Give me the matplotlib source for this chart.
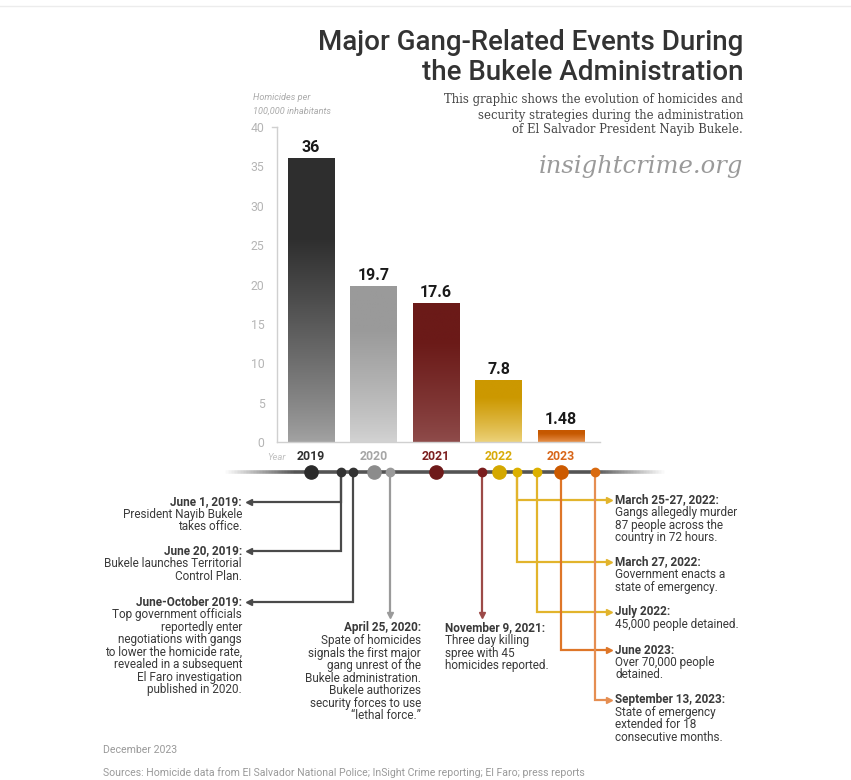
import numpy as np
import matplotlib
matplotlib.use('Agg')
import matplotlib.pyplot as plt
from matplotlib.colors import to_rgb
from matplotlib.collections import LineCollection

# ---------------- data ----------------
years = ['2019', '2020', '2021', '2022', '2023']
homicide_rate = [36, 19.7, 17.6, 7.8, 1.48]
year_colors = ['#303030', '#a6a6a6', '#7c2020', '#d8ab0a', '#d8661a']
bar_top_colors = ['#2e2e2e', '#9a9a9a', '#6b1a18', '#cc9800', '#c65800']
bar_bottom_colors = ['#a3a3a3', '#d3d3d3', '#8f4c4b', '#edd37c', '#e8924e']
big_dot_colors = ['#2b2b2b', '#8c8c8c', '#6e1a1a', '#d4a800', '#cc5a00']
yticks = [0, 5, 10, 15, 20, 25, 30, 35, 40]

# timeline events: position on the year axis (bar index units)
event_pos = [0.48, 0.67, 1.27, 2.74, 3.30, 3.62, 4.54]
event_colors = ['#333333', '#333333', '#9a9a9a', '#7a1e1e', '#dcb000', '#dcb000', '#d96a10']

title_lines = ['Major Gang-Related Events During', 'the Bukele Administration']
subtitle_lines = ['This graphic shows the evolution of homicides and',
                  'security strategies during the administration',
                  'of El Salvador President Nayib Bukele.']

# annotations: (anchor bar-index, side, header, body lines, connector colour, y end)
annotations = [
    (0.48, 'left', 'June 1, 2019:', ['President Nayib Bukele', 'takes office.'], '#4a4a4a', 502),
    (0.48, 'left', 'June 20, 2019:', ['Bukele launches Territorial', 'Control Plan.'], '#4a4a4a', 551),
    (0.67, 'left', 'June-October 2019:', ['Top government officials', 'reportedly enter',
                                          'negotiations with gangs', 'to lower the homicide rate,',
                                          'revealed in a subsequent', 'El Faro investigation',
                                          'published in 2020.'], '#4a4a4a', 602),
    (1.27, 'down_right', 'April 25, 2020:', ['Spate of homicides', 'signals the first major',
                                             'gang unrest of the', 'Bukele administration.',
                                             'Bukele authorizes', 'security forces to use',
                                             '\u201clethal force.\u201d'], '#9a9a9a', 615),
    (2.74, 'down_left', 'November 9, 2021:', ['Three day killing', 'spree with 45',
                                              'homicides reported.'], '#9c4a48', 615),
    (3.30, 'right', 'March 25-27, 2022:', ['Gangs allegedly murder', '87 people across the',
                                           'country in 72 hours.'], '#e2b42c', 500),
    (3.30, 'right', 'March 27, 2022:', ['Government enacts a', 'state of emergency.'], '#e2b42c', 562),
    (3.62, 'right', 'July 2022:', ['45,000 people detained.'], '#e2b42c', 612),
    (4.00, 'right', 'June 2023:', ['Over 70,000 people', 'detained.'], '#de7628', 650),
    (4.54, 'right', 'September 13, 2023:', ['State of emergency', 'extended for 18',
                                            'consecutive months.'], '#e58e52', 700),
]

# ---------------- figure ----------------
W, H = 851, 780
fig = plt.figure(figsize=(W / 100, H / 100), dpi=100)
fig.patch.set_facecolor('white')
plt.rcParams['font.family'] = ['Roboto', 'DejaVu Sans']

# bar axes, placed in pixels
ax_l, ax_r, ax_b, ax_t = 277, 600, 442, 127
ax = fig.add_axes([ax_l / W, 1 - ax_b / H, (ax_r - ax_l) / W, (ax_b - ax_t) / H])
ax.set_facecolor('none')

bw = 0.74
x = np.arange(len(years))
ngrad = 200
for i, (v, ct, cb) in enumerate(zip(homicide_rate, bar_top_colors, bar_bottom_colors)):
    t = np.linspace(0, 1, ngrad)  # 0 bottom -> 1 top
    s = np.clip(t / 0.72, 0, 1) ** 0.85
    top, bot = np.array(to_rgb(ct)), np.array(to_rgb(cb))
    cols = bot[None, :] + (top - bot)[None, :] * s[:, None]
    img = cols[::-1][:, None, :]
    ax.imshow(img, extent=(i - bw / 2, i + bw / 2, 0, v), aspect='auto',
              interpolation='bilinear', zorder=2)
    ax.text(i, v + 0.45, f'{v:g}', ha='center', va='bottom', fontsize=11.5,
            fontweight='bold', color='#1a1a1a')

ax.set_xlim(-0.544, 4.624)
ax.set_ylim(0, 40)
ax.set_yticks(yticks)
ax.set_yticklabels([str(t) for t in yticks])
ax.tick_params(axis='y', length=0, pad=9, labelsize=8.8, labelcolor='#b5b5b5')
ax.set_xticks(x)
ax.set_xticklabels(years)
ax.tick_params(axis='x', length=0, pad=6, labelsize=8.8)
for lab, c in zip(ax.get_xticklabels(), year_colors):
    lab.set_color(c)
    lab.set_fontweight('bold')
for sp in ['top', 'right']:
    ax.spines[sp].set_visible(False)
ax.spines['left'].set_color('#d0d0d0')
ax.spines['bottom'].set_color('#d0d0d0')
ax.spines['left'].set_linewidth(1)
ax.spines['bottom'].set_linewidth(1)
# small tick at the top of the axis
ax.plot([-0.544 - 0.08, -0.544], [40, 40], color='#d0d0d0', lw=1, clip_on=False)

# overlay axes in pixel coordinates
ov = fig.add_axes([0, 0, 1, 1])
ov.set_xlim(0, W)
ov.set_ylim(H, 0)
ov.axis('off')
ov.patch.set_visible(False)

fig.canvas.draw()


def xpix(idx):
    return ax.transData.transform((idx, 0))[0]


# faint border at top
ov.plot([0, W], [6, 6], color='#ececec', lw=1)

# title & subtitle
for k, line in enumerate(title_lines):
    ov.text(743, 42 + 30 * k, line, ha='right', va='center', fontsize=20,
            fontweight='medium', color='#333333')
for k, line in enumerate(subtitle_lines):
    ov.text(743, 100 + 15 * k, line, ha='right', va='center', fontsize=8.4,
            family='DejaVu Serif', color='#444444')
ov.text(743, 167, 'insightcrime.org', ha='right', va='center', fontsize=17.5,
        family='DejaVu Serif', style='italic', color='#9a9a9a')

# axis title
ov.text(253, 97, 'Homicides per', ha='left', va='center', fontsize=6.6, style='italic', color='#aaaaaa')
ov.text(253, 111, '100,000 inhabitants', ha='left', va='center', fontsize=6.6, style='italic', color='#aaaaaa')
ov.text(286, 457, 'Year', ha='right', va='center', fontsize=6.8, style='italic', color='#c0c0c0')

# timeline line with faded ends
tl_y = 472
xs = np.linspace(225, 665, 300)
segs = [[(xs[j], tl_y), (xs[j + 1], tl_y)] for j in range(len(xs) - 1)]
xm = (xs[:-1] + xs[1:]) / 2
alpha = np.clip((xm - 225) / 70, 0, 1) * np.clip((665 - xm) / 70, 0, 1)
lc_cols = [(0.33, 0.33, 0.33, a) for a in alpha]
ov.add_collection(LineCollection(segs, colors=lc_cols, linewidths=2.6, zorder=3))

# connectors
txt_size = 8.5
lh = 12.5
for pos, side, header, body, col, yend in annotations:
    px = xpix(pos)
    if side == 'left':
        tip = 249
        ov.plot([px, px, tip + 3], [tl_y, yend, yend], color=col, lw=1.6, zorder=2,
                solid_joinstyle='miter')
        ov.plot(tip, yend, marker='<', ms=4.5, color=col, zorder=2)
        tx, ha, y0 = 242, 'right', yend
    elif side == 'right':
        tip = 609
        ov.plot([px, px, tip - 3], [tl_y, yend, yend], color=col, lw=1.6, zorder=2,
                solid_joinstyle='miter')
        ov.plot(tip, yend, marker='>', ms=4.5, color=col, zorder=2)
        tx, ha, y0 = 615, 'left', yend
    elif side == 'down_right':
        ov.plot([px, px], [tl_y, yend - 3], color=col, lw=1.6, zorder=2)
        ov.plot(px, yend, marker='v', ms=4.5, color=col, zorder=2)
        tx, ha, y0 = 421, 'right', yend + 13
    else:
        ov.plot([px, px], [tl_y, yend - 3], color=col, lw=1.6, zorder=2)
        ov.plot(px, yend, marker='v', ms=4.5, color=col, zorder=2)
        tx, ha, y0 = 445, 'left', yend + 13
    ov.text(tx, y0, header, ha=ha, va='center', fontsize=txt_size, fontweight='bold', color='#3a3a3a')
    for k, line in enumerate(body):
        ov.text(tx, y0 + lh * (k + 1), line, ha=ha, va='center', fontsize=txt_size, color='#3a3a3a')

# dots
for i, c in enumerate(big_dot_colors):
    ov.plot(xpix(i), tl_y, marker='o', ms=9.5, color=c, zorder=5)
for p, c in zip(event_pos, event_colors):
    ov.plot(xpix(p), tl_y, marker='o', ms=6, color=c, zorder=5)

# footer
ov.text(103, 750, 'December 2023', ha='left', va='center', fontsize=7.6, color='#9a9a9a')
ov.text(103, 773, 'Sources: Homicide data from El Salvador National Police; InSight Crime reporting; El Faro; press reports',
        ha='left', va='center', fontsize=7.6, color='#9a9a9a')

fig.savefig('out.png', dpi=100, facecolor='white')
